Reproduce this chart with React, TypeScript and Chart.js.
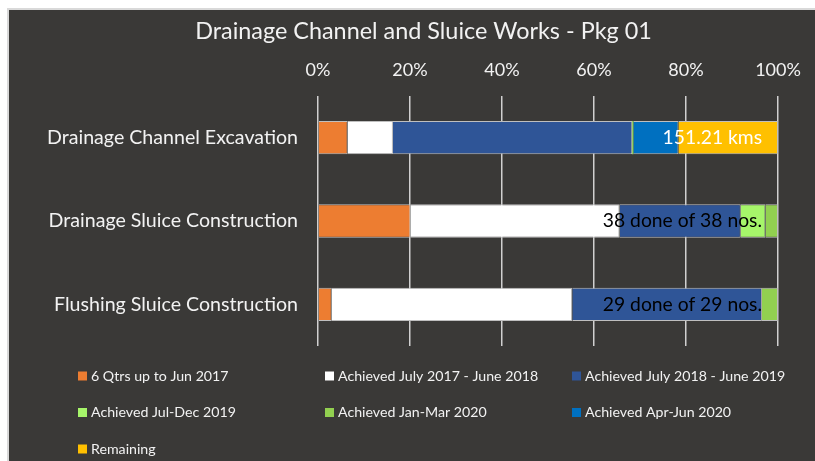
import React, { useEffect, useRef } from 'react';
import { Chart, registerables } from 'chart.js';

Chart.register(...registerables);

const categories = [
  'Drainage Channel Excavation',
  'Drainage Sluice Construction',
  'Flushing Sluice Construction',
];

const seriesNames = [
  '6 Qtrs up to Jun 2017',
  'Achieved July 2017 - June 2018',
  'Achieved July 2018 - June 2019',
  'Achieved Jul-Dec 2019',
  'Achieved Jan-Mar 2020',
  'Achieved Apr-Jun 2020',
  'Remaining',
];

const seriesColors = ['#ED7D31', '#FFFFFF', '#2F5597', '#A6F56A', '#92D050', '#0070C0', '#FFC000'];

// percent of total for each row
const qtrs6UpToJun2017 = [6.45, 20.1, 3.0];
const achievedJul17Jun18 = [9.85, 45.5, 52.3];
const achievedJul18Jun19 = [52.0, 26.3, 41.2];
const achievedJulDec2019 = [0.25, 5.4, null];
const achievedJanMar2020 = [null, 2.7, 3.5];
const achievedAprJun2020 = [9.8, null, null];
const remaining = [21.65, null, null];

const seriesValues = [
  qtrs6UpToJun2017,
  achievedJul17Jun18,
  achievedJul18Jun19,
  achievedJulDec2019,
  achievedJanMar2020,
  achievedAprJun2020,
  remaining,
];

const barLabels = ['151.21 kms', '38 done of 38 nos.', '29 done of 29 nos.'];
const barLabelColors = ['#FFFFFF', '#000000', '#000000'];

const xTickStep = 20;
const xMax = 100;

const FONT = 'Lato';
const TEXT = '#F2F2F2';

export default function App() {
  const ref = useRef<HTMLCanvasElement>(null);

  useEffect(() => {
    const canvas = ref.current;
    if (!canvas) return;

    const datasets = seriesValues.map((vals, i) => ({
      label: seriesNames[i],
      data: vals,
      backgroundColor: seriesColors[i],
      borderColor: '#BFBFBF',
      borderWidth: (c: any) => (c.raw != null && c.raw < 1 ? 0 : 1),
      categoryPercentage: 1,
      barPercentage: 0.4,
    }));

    const barLabelPlugin = {
      id: 'barLabelPlugin',
      afterDatasetsDraw(chart: any) {
        const { ctx, scales } = chart;
        const x = scales.x;
        const y = scales.y;
        ctx.save();
        ctx.font = `19.3px ${FONT}`;
        ctx.textAlign = 'right';
        ctx.textBaseline = 'middle';
        barLabels.forEach((t, i) => {
          ctx.fillStyle = barLabelColors[i];
          ctx.fillText(t, x.getPixelForValue(xMax) - 16, y.getPixelForValue(i));
        });
        ctx.restore();
      },
    };

    const gridLegendPlugin = {
      id: 'gridLegendPlugin',
      afterDraw(chart: any) {
        const { ctx, chartArea } = chart;
        const x0 = 69;
        const colW = 247;
        const y0 = chartArea.bottom + 30;
        const rowH = 36.5;
        ctx.save();
        ctx.font = `14.2px ${FONT}`;
        ctx.textAlign = 'left';
        ctx.textBaseline = 'middle';
        seriesNames.forEach((name, i) => {
          const col = i % 3;
          const row = Math.floor(i / 3);
          const bx = x0 + col * colW;
          const by = y0 + row * rowH;
          ctx.fillStyle = seriesColors[i];
          ctx.fillRect(bx, by - 4.5, 9, 9);
          ctx.fillStyle = TEXT;
          ctx.fillText(name, bx + 13, by);
        });
        ctx.restore();
      },
    };

    const chart = new Chart(canvas, {
      type: 'bar',
      data: { labels: categories, datasets },
      options: {
        indexAxis: 'y',
        responsive: false,
        animation: false,
        layout: { padding: { left: 23, right: 0, top: 0, bottom: 115 } },
        plugins: {
          legend: { display: false },
          tooltip: { enabled: false },
          title: {
            display: true,
            text: 'Drainage Channel and Sluice Works - Pkg 01',
            color: TEXT,
            font: { family: FONT, size: 23.4, weight: 'normal', lineHeight: 1.2 },
            padding: { top: 7, bottom: 0 },
          },
        },
        scales: {
          x: {
            position: 'top',
            stacked: true,
            min: 0,
            max: xMax,
            ticks: {
              stepSize: xTickStep,
              color: TEXT,
              padding: 15,
              font: { family: FONT, size: 18 },
              callback: (v: any) => `${v}%`,
            },
            grid: { color: '#D0D0D0', lineWidth: 1.5, drawTicks: false },
            border: { display: false },
            afterFit: (s: any) => {
              s.height = 50.9;
              s.paddingLeft = 0;
              s.paddingRight = 0;
            },
          },
          y: {
            stacked: true,
            ticks: {
              color: TEXT,
              padding: 20,
              font: { family: FONT, size: 19.6 },
            },
            grid: { display: false, drawTicks: false },
            border: { display: false },
            afterFit: (s: any) => {
              s.width = 286;
              s.paddingTop = 0;
              s.paddingBottom = 0;
            },
          },
          yRight: {
            type: 'linear',
            axis: 'y',
            position: 'right',
            display: true,
            ticks: { display: false },
            grid: { display: false, drawTicks: false },
            border: { display: false },
            afterFit: (s: any) => {
              s.width = 37;
              s.paddingTop = 0;
              s.paddingBottom = 0;
            },
          },
        },
      },
      plugins: [barLabelPlugin, gridLegendPlugin],
    } as any);

    return () => chart.destroy();
  }, []);

  return (
    <div
      style={{
        position: 'fixed',
        left: 7,
        top: 8,
        right: 0,
        bottom: 0,
        borderTop: '2px solid #D9D9D9',
        borderLeft: '2px solid #D9D9D9',
        background: '#3A3937',
        overflow: 'hidden',
      }}
    >
      <canvas ref={ref} width={806} height={451} style={{ display: 'block' }} />
    </div>
  );
}
